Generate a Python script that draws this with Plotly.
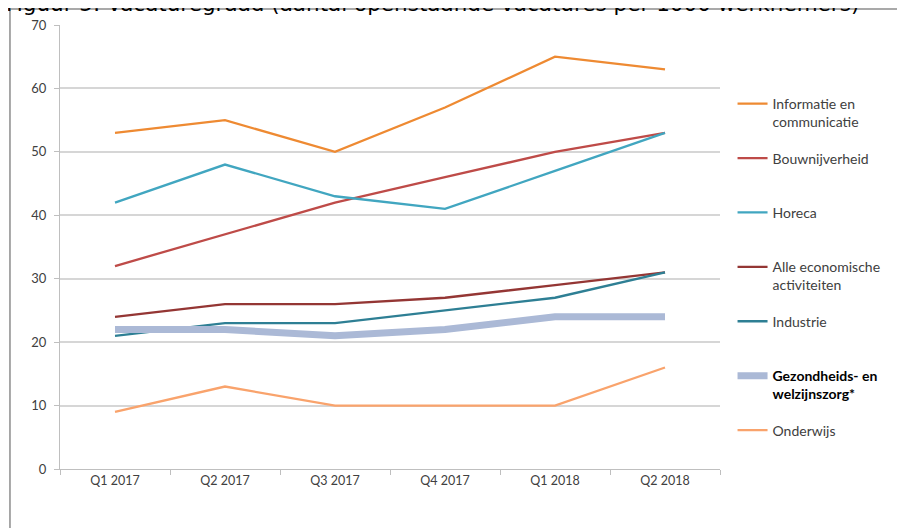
import plotly.graph_objects as go

quarters = ["Q1 2017", "Q2 2017", "Q3 2017", "Q4 2017", "Q1 2018", "Q2 2018"]

informatie = [53, 55, 50, 57, 65, 63]
bouw = [32, 37, 42, 46, 50, 53]
horeca = [42, 48, 43, 41, 47, 53]
alle = [24, 26, 26, 27, 29, 31]
industrie = [21, 23, 23, 25, 27, 31]
gezondheid = [22, 22, 21, 22, 24, 24]
onderwijs = [9, 13, 10, 10, 10, 16]

names = [
    "Informatie en<br>communicatie",
    "Bouwnijverheid<br> ",
    "Horeca<br> ",
    "Alle economische<br>activiteiten",
    "Industrie<br> ",
    "<b><span style='color:#000000'>Gezondheids- en<br>welzijnszorg*</span></b>",
    "Onderwijs<br> ",
]
series = [informatie, bouw, horeca, alle, industrie, gezondheid, onderwijs]
colors = ["#EE8A32", "#BE4B48", "#41A6C0", "#943634", "#2E7F94", "#ABB9D6", "#F9A36C"]
widths = [2.3, 2.3, 2.3, 2.3, 2.3, 7, 2.3]

fig = go.Figure()
for i, (n, s, c, w) in enumerate(zip(names, series, colors, widths)):
    fig.add_trace(go.Scatter(
        x=quarters, y=s, name=n, mode="lines",
        line=dict(color=c, width=w, shape="linear"),
        legendgroup=f"g{i}",
    ))

fig.update_layout(
    width=905, height=528,
    margin=dict(l=52, r=193, t=17, b=67),
    paper_bgcolor="white", plot_bgcolor="white",
    font=dict(family="Lato, sans-serif", size=12.5, color="#404040"),
    showlegend=True,
    legend=dict(
        x=1.019, xanchor="left", y=0.858, yanchor="top",
        traceorder="grouped", tracegroupgap=15, valign="top",
        font=dict(family="Lato, sans-serif", size=14, color="#404040"),
        bgcolor="rgba(0,0,0,0)", itemwidth=30,
    ),
    xaxis=dict(
        type="category", range=[-0.5, 5.5],
        showline=True, linecolor="#BFBFBF", linewidth=1,
        ticks="outside", tickson="boundaries", ticklen=5, tickcolor="#BFBFBF",
        showgrid=False, tickfont=dict(size=12.5, color="#404040"),
        automargin=False,
    ),
    yaxis=dict(
        range=[0, 70], dtick=10, tick0=0,
        showline=True, linecolor="#BFBFBF", linewidth=1,
        ticks="outside", ticklen=5, tickcolor="#BFBFBF",
        showgrid=True, gridcolor="#D6D6D6", gridwidth=1.5,
        zeroline=False, tickfont=dict(size=13, color="#404040"),
        ticklabelstandoff=5, automargin=False,
    ),
)

# title (clipped at top, as in the reference)
fig.add_annotation(
    text="Figuur 5: Vacaturegraad (aantal openstaande vacatures per 1000 werknemers)",
    xref="paper", yref="paper", x=-0.0848, y=1.0158, xanchor="left", yanchor="bottom",
    showarrow=False, font=dict(family="DejaVu Sans", size=21.5, color="#000000"),
)

# frame lines
fig.add_shape(type="line", xref="paper", yref="paper", x0=-0.0758, x1=1.3, y0=1.036, y1=1.036,
              line=dict(color="#8C8C8C", width=1.5))
fig.add_shape(type="line", xref="paper", yref="paper", x0=-0.0758, x1=-0.0758, y0=1.036, y1=-0.2,
              line=dict(color="#8C8C8C", width=1.5))

fig.write_html("out.html")
